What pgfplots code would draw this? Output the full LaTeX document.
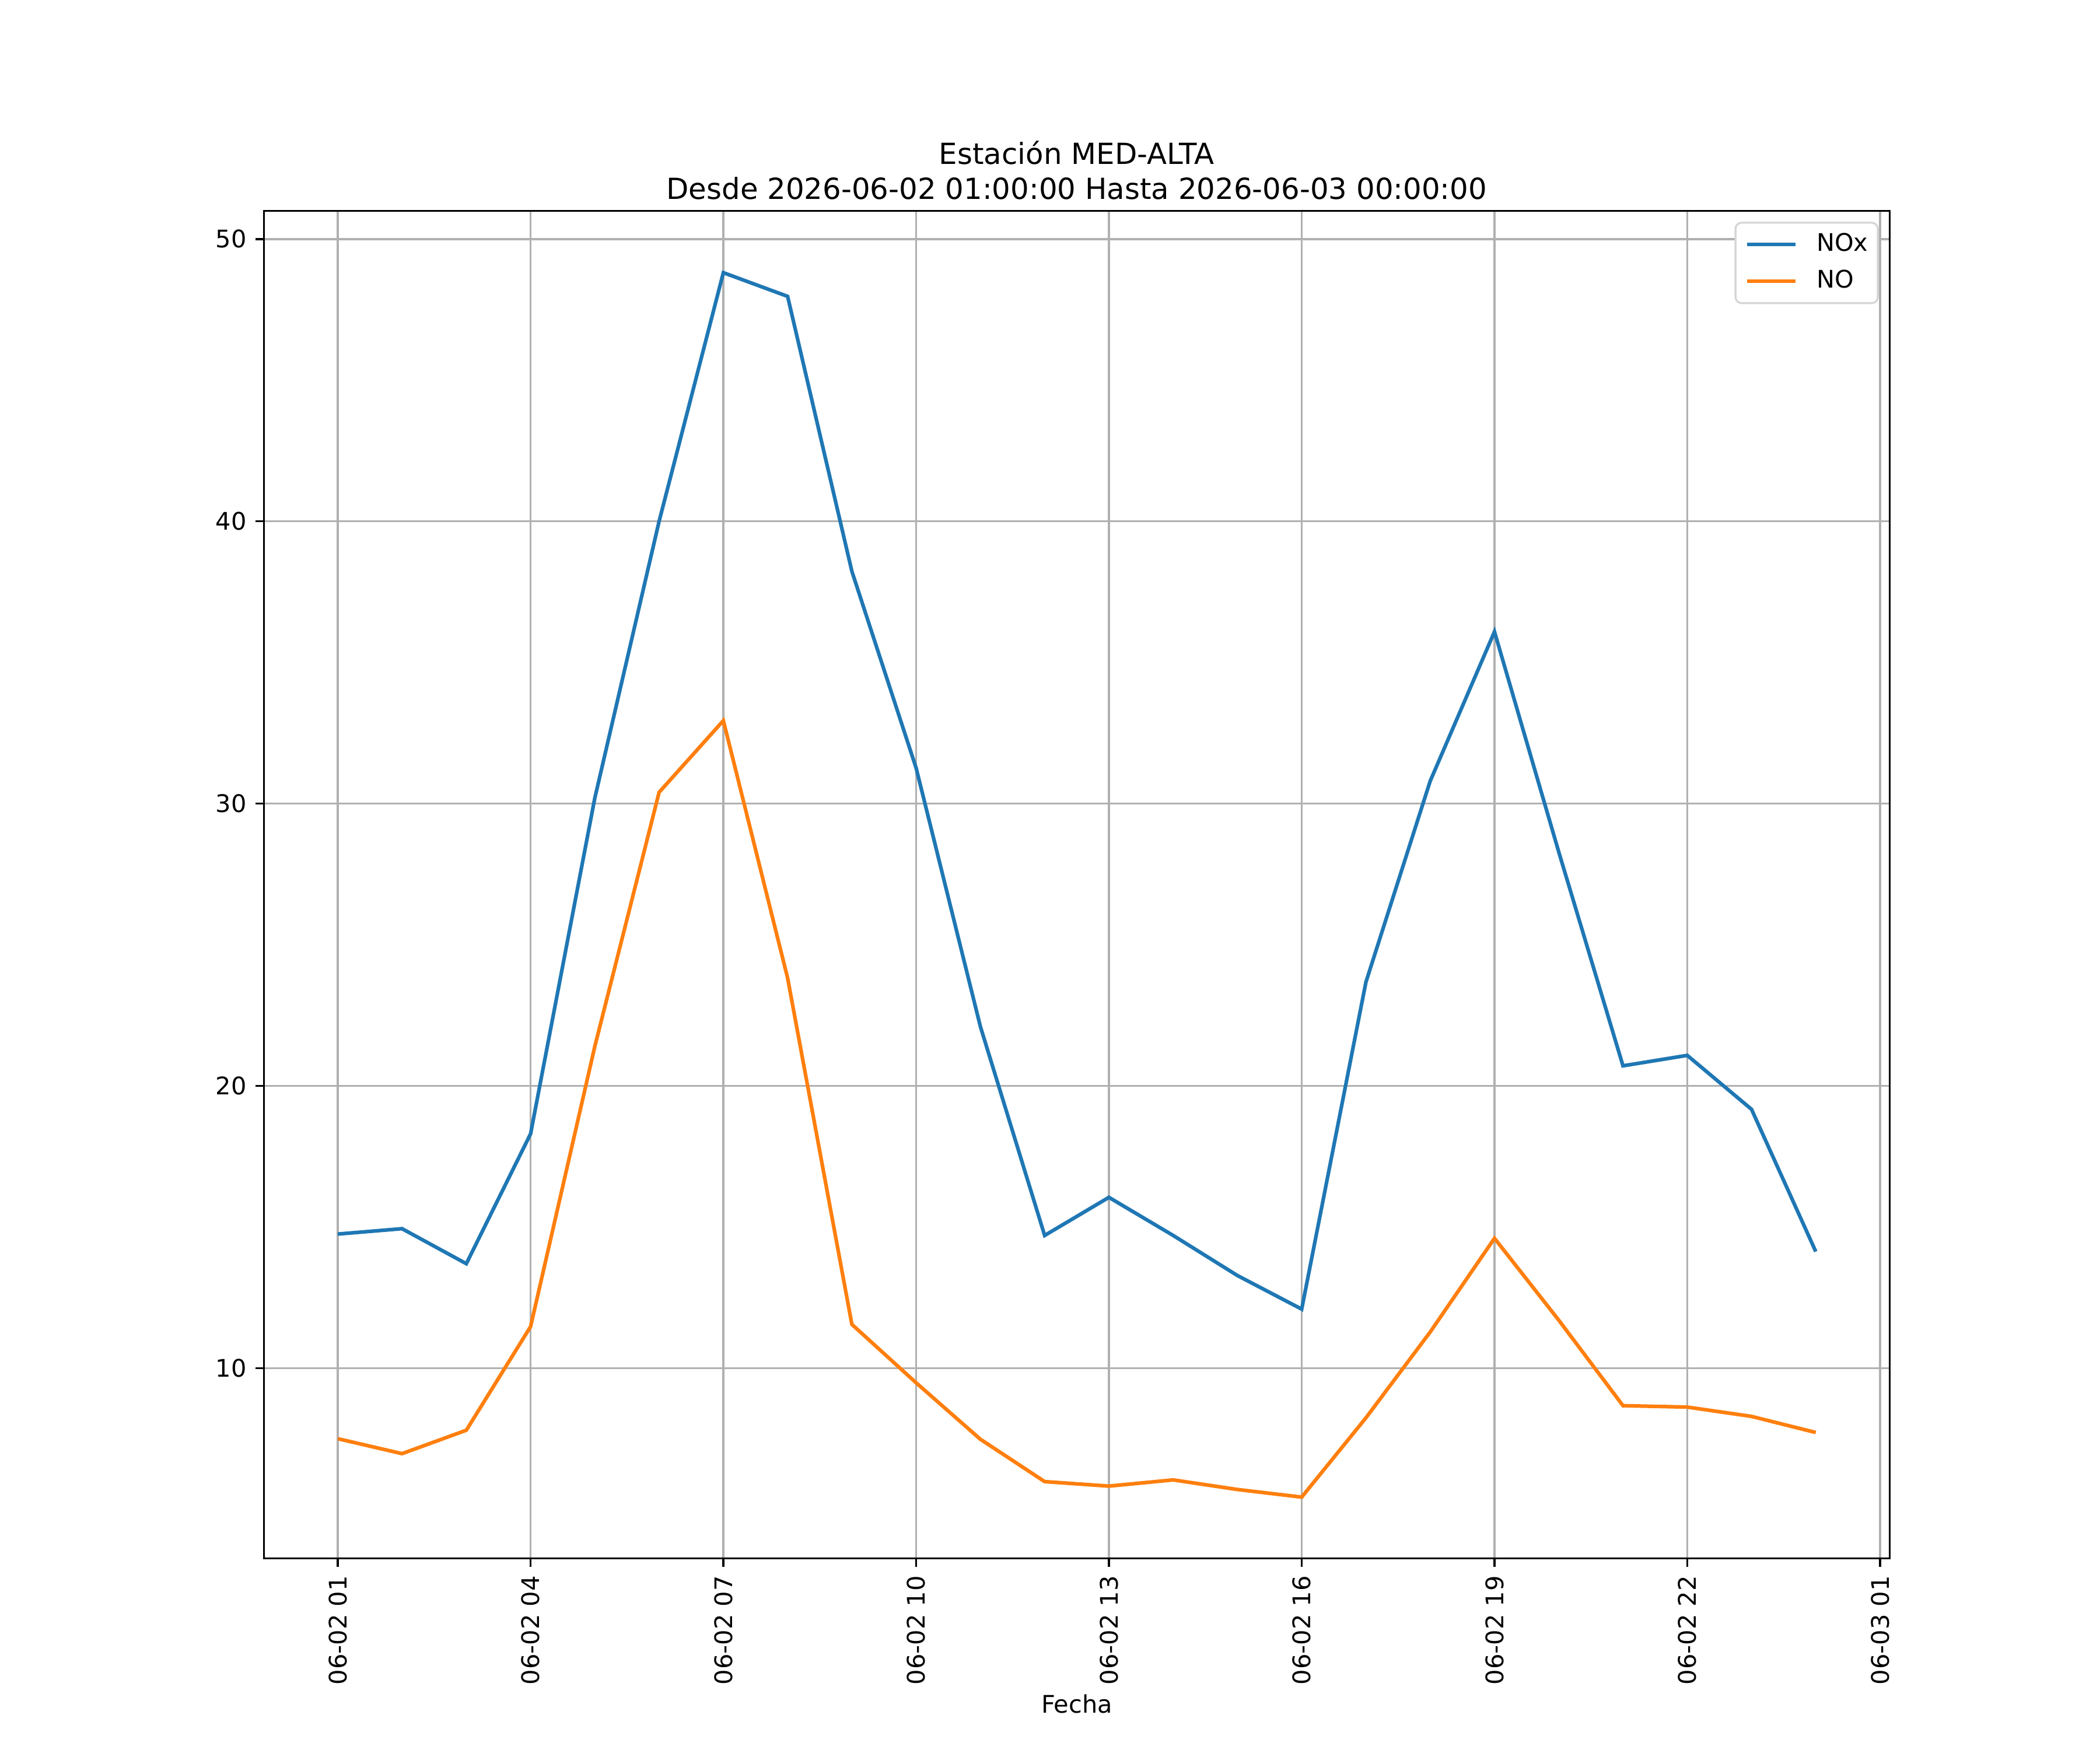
\documentclass[border=0pt]{standalone}
\usepackage{fontspec}
\setmainfont{DejaVu Sans}
\usepackage{pgfplots}
\pgfplotsset{compat=1.18}
\usepackage{pgfplotstable}
\definecolor{mplblue}{HTML}{1F77B4}
\definecolor{mplorange}{HTML}{FF7F0E}
\definecolor{mplgrid}{HTML}{B0B0B0}
\definecolor{mplframe}{HTML}{D6D6D6}
\pgfplotstableread{
h nox no
0 14.75 7.50
1 14.94 6.97
2 13.70 7.80
3 18.30 11.47
4 30.20 21.40
5 40.00 30.40
6 48.81 32.94
7 47.97 23.82
8 38.23 11.55
9 31.26 9.48
10 22.10 7.48
11 14.70 5.98
12 16.05 5.82
13 14.70 6.04
14 13.28 5.70
15 12.09 5.43
16 23.68 8.24
17 30.80 11.28
18 36.09 14.60
19 28.29 11.70
20 20.71 8.67
21 21.08 8.62
22 19.17 8.29
23 14.13 7.72
}\datatable
\begin{document}
\begin{tikzpicture}
\path[use as bounding box] (0,0) rectangle (12in,10in);
\begin{axis}[
  at={(1.508in,1.095in)}, anchor=south west,
  width=9.29in, height=7.70in, scale only axis,
  xmin=-1.15, xmax=24.15, ymin=3.26, ymax=51.0,
  xtick={0,3,6,9,12,15,18,21,24},
  xticklabels={06-02 01,06-02 04,06-02 07,06-02 10,06-02 13,06-02 16,06-02 19,06-02 22,06-03 01},
  ytick={10,20,30,40,50},
  xtick pos=bottom, ytick pos=left,
  tick align=outside,
  major tick length=3.5pt,
  tick style={black, line width=0.8pt},
  axis line style={black, line width=0.8pt},
  grid=major,
  major grid style={mplgrid, line width=0.8pt},
  /pgf/number format/assume math mode=true,
  ticklabel style={font=\fontsize{10}{12}\selectfont, inner sep=0pt},
  xticklabel style={rotate=90, anchor=east, xshift=0pt},
  xticklabel shift=3.5pt,
  yticklabel shift=3.5pt,
  yticklabel style={anchor=east},
  xlabel={Fecha},
  xlabel style={font=\fontsize{10}{12}\selectfont, inner sep=0pt, anchor=north, yshift=-4pt},
  title={Estación MED-ALTA\\Desde 2026-06-02 01:00:00 Hasta 2026-06-03 00:00:00},
  title style={font=\fontsize{12}{14.4}\selectfont, align=center, at={(0.5,1)}, anchor=south, inner sep=0pt, yshift=-1.5pt},
  legend style={at={(1,1)}, anchor=north east, xshift=-4.5pt, yshift=-4.5pt,
    draw=mplframe, line width=0.8pt, rounded corners=2.5pt, fill=white,
    font=\fontsize{10}{12}\selectfont, inner xsep=4pt, inner ysep=4.3pt,
    row sep=5.6pt,
    nodes={inner sep=0pt, text height=7.5pt, text depth=2pt},
    /tikz/every odd column/.style={column sep=8pt}},
  legend cell align=left,
  legend image code/.code={\draw[#1, line width=1.5pt] (0pt,0pt) -- (20pt,0pt);},
]
\addplot[mplblue, line width=1.5pt] table[x=h, y=nox] {\datatable};
\addlegendentry{NOx}
\addplot[mplorange, line width=1.5pt] table[x=h, y=no] {\datatable};
\addlegendentry{NO}
\end{axis}
\end{tikzpicture}
\end{document}
